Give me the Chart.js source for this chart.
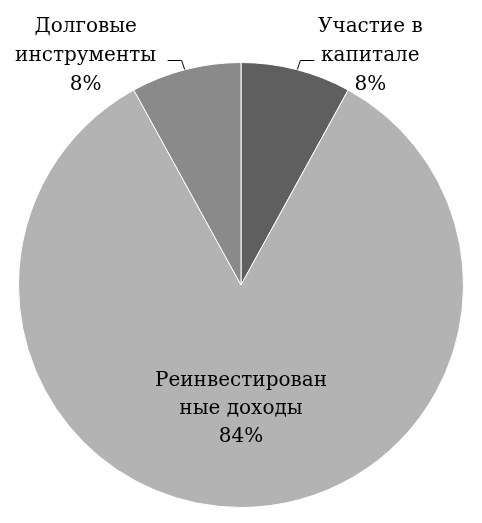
<!DOCTYPE html>
<html>
<head>
  <meta charset="UTF-8">
  <title>Структура инвестиций</title>
  <script src="https://cdn.jsdelivr.net/npm/chart.js"></script>
  <style>
    body { margin: 0; padding: 0; background: #fff; }
    #wrap { width: 482px; height: 523px; }
  </style>
</head>
<body>
  <div id="wrap"><canvas id="pie" width="482" height="523"></canvas></div>
  <script>
    // categories and values
    const labels = [
      ['Участие в', 'капитале'],
      ['Реинвестирован', 'ные доходы'],
      ['Долговые', 'инструменты']
    ];
    const values = [8, 84, 8];
    const colors = ['#5f5f5f', '#b3b3b3', '#8a8a8a'];

    const FONT = '20px "DejaVu Serif"';

    // draws the data labels; the two small slices get their label outside with a leader line
    const sliceLabels = {
      id: 'sliceLabels',
      afterDatasetsDraw(chart) {
        const ctx = chart.ctx;
        const arcs = chart.getDatasetMeta(0).data;
        const total = values.reduce((a, b) => a + b, 0);
        ctx.save();
        ctx.font = FONT;
        ctx.fillStyle = '#000';
        ctx.textAlign = 'center';
        ctx.textBaseline = 'middle';
        const lh = 29;
        arcs.forEach((arc, i) => {
          const p = arc.getProps(['x', 'y', 'startAngle', 'endAngle', 'outerRadius'], true);
          const mid = (p.startAngle + p.endAngle) / 2;
          const lines = labels[i].concat([Math.round(values[i] / total * 100) + '%']);
          if (values[i] / total > 0.3) {
            const r = p.outerRadius * 0.555;
            const cx = p.x + Math.cos(mid) * r;
            const cy = p.y + Math.sin(mid) * r;
            lines.forEach((t, k) => ctx.fillText(t, cx, cy + (k - 1) * 28));
          } else {
            const ax = p.x + Math.cos(mid) * p.outerRadius;
            const ay = p.y + Math.sin(mid) * p.outerRadius;
            const side = Math.cos(mid) >= 0 ? 1 : -1;
            const cx = side > 0 ? ax + 74 : ax - 100;
            const cy = ay - 14;
            // leader line
            ctx.strokeStyle = '#000';
            ctx.lineWidth = 1;
            ctx.beginPath();
            ctx.moveTo(ax + side * 1, ay);
            ctx.lineTo(ax + side * 4, ay - 9);
            ctx.lineTo(ax + side * 18, ay - 9);
            ctx.stroke();
            lines.forEach((t, k) => ctx.fillText(t, cx, cy + (k - 1) * lh));
          }
        });
        ctx.restore();
      }
    };

    new Chart(document.getElementById('pie'), {
      type: 'pie',
      data: {
        labels: labels,
        datasets: [{
          data: values,
          backgroundColor: colors,
          borderColor: '#ffffff',
          borderWidth: 1
        }]
      },
      options: {
        responsive: false,
        animation: false,
        layout: { padding: { top: 62, bottom: 15, left: 18, right: 18 } },
        plugins: {
          legend: { display: false },
          tooltip: { enabled: false }
        }
      },
      plugins: [sliceLabels]
    });
  </script>
</body>
</html>
